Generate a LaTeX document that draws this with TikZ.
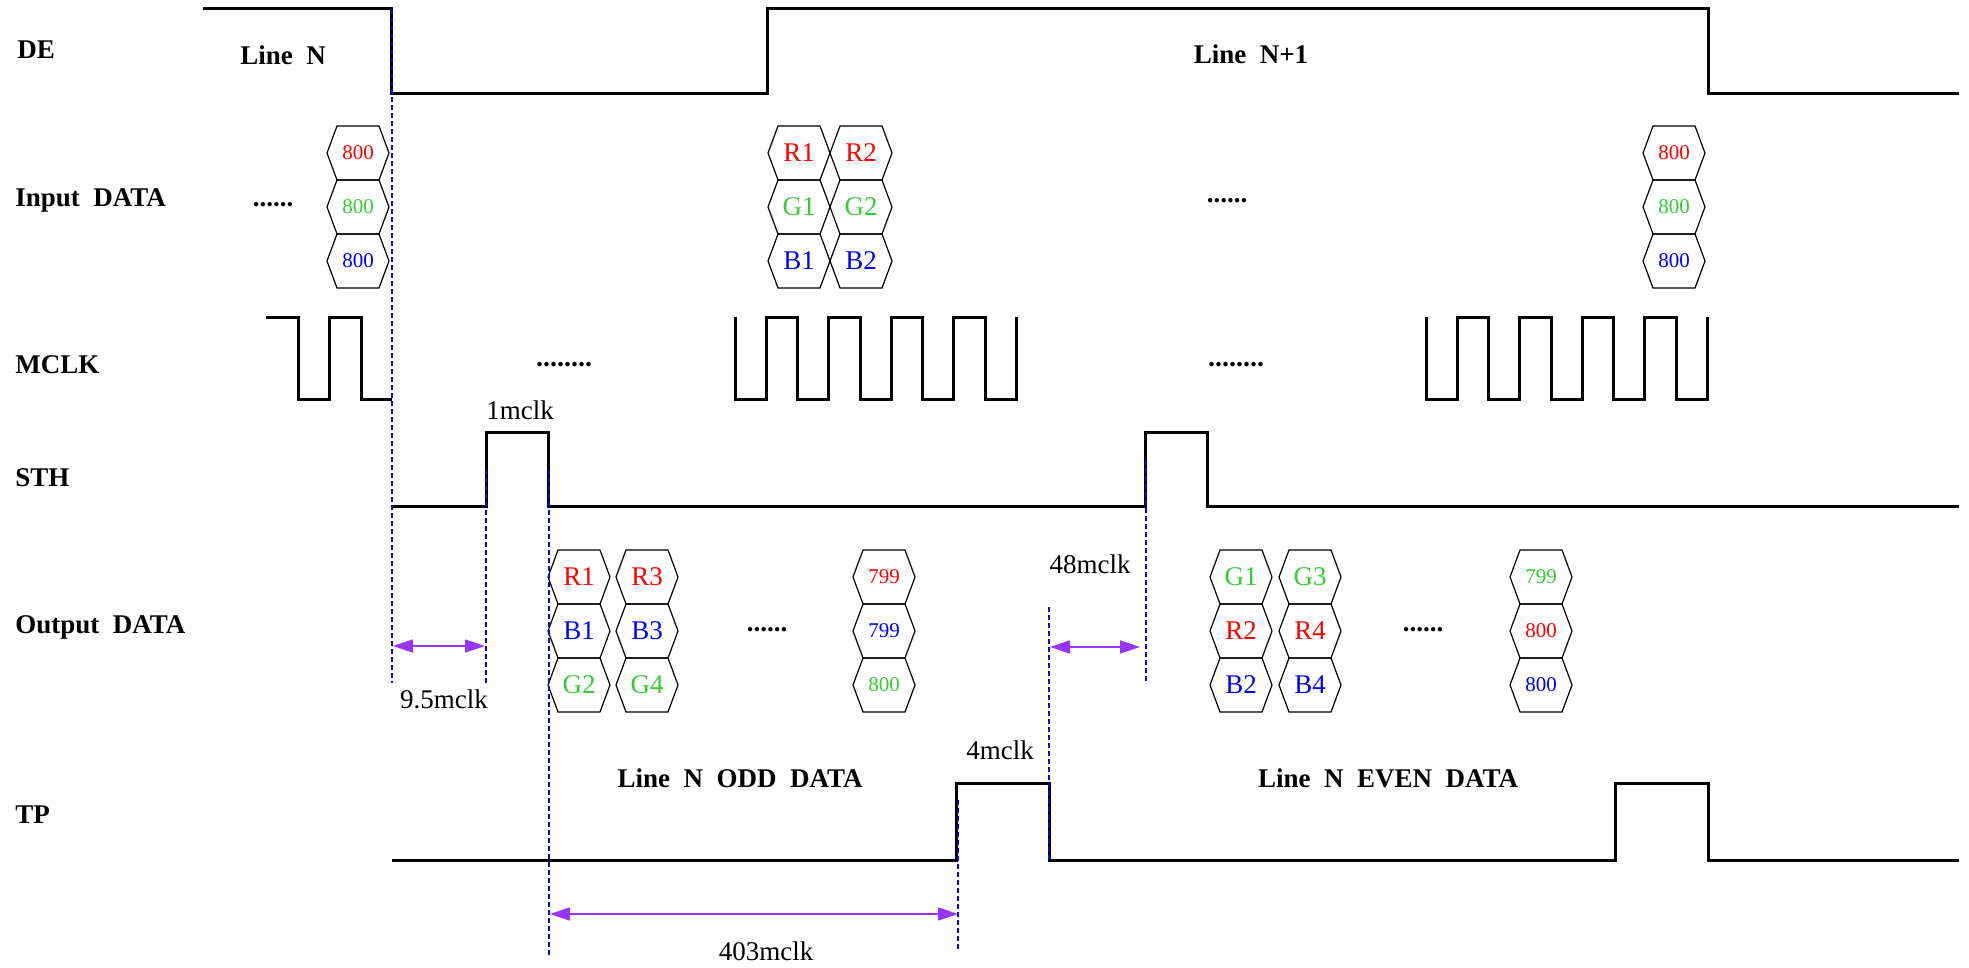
\documentclass[tikz,border=0pt]{standalone}
\usepackage{fontspec}
\setmainfont{Liberation Serif}
\usetikzlibrary{arrows.meta}
\definecolor{sigred}{RGB}{255,0,0}
\definecolor{siggreen}{RGB}{51,204,51}
\definecolor{sigblue}{RGB}{0,0,255}
\definecolor{dimpurple}{RGB}{153,51,255}
\tikzset{
  wave/.style={line width=1.5pt, line join=miter},
  guide/.style={sigblue, line width=0.6pt, dash pattern=on 2.5pt off 1.5pt},
  dimline/.style={dimpurple, line width=0.8pt, {Triangle[length=10pt,width=6.5pt]}-{Triangle[length=10pt,width=6.5pt]}},
  siglabel/.style={font=\fontsize{13.5}{15}\selectfont\bfseries, anchor=base west, inner sep=0pt},
  boldtext/.style={font=\fontsize{13.5}{15}\selectfont\bfseries, anchor=base, inner sep=0pt},
  dimtext/.style={font=\fontsize{13.5}{15}\selectfont, anchor=base, inner sep=0pt},
  dots/.style={font=\fontsize{13.5}{15}\selectfont\bfseries, anchor=base, inner sep=0pt},
  thindots/.style={font=\fontsize{14}{15}\selectfont\bfseries, anchor=base, inner sep=0pt},
  hexline/.style={line width=0.6pt},
  hexletter/.style={font=\fontsize{13.5}{15}\selectfont, inner sep=0pt},
  hexdigit/.style={font=\fontsize{10.5}{12}\selectfont, inner sep=0pt},
}
% name, x, y, colour, text, text style
\newcommand{\hexcell}[6]{%
  \draw[hexline] (#2-31,#3) -- (#2-21,#3-27) -- (#2+21,#3-27) -- (#2+31,#3)
    -- (#2+21,#3+27) -- (#2-21,#3+27) -- cycle;
  \node[#6, text=#4] (#1) at (#2,#3) {#5};}
\begin{document}
\begin{tikzpicture}[x=0.5pt, y=-0.5pt]
\useasboundingbox (0,0) rectangle (1969,968);

% signal labels
\node[siglabel] (lDE) at (17,59) {DE};
\node[siglabel] (lIN) at (15,207) {Input\ \ DATA};
\node[siglabel] (lMC) at (15,373) {MCLK};
\node[siglabel] (lST) at (15,486) {STH};
\node[siglabel] (lOUT) at (15,633) {Output\ \ DATA};
\node[siglabel] (lTP) at (15,823) {TP};

% DE
\draw[wave] (203,9) -- (391,9) -- (391,94) -- (767,94) -- (767,9) -- (1708,9) -- (1708,94) -- (1959,94);
\node[siglabel] (lineN) at (240,65) {Line\ \ N};
\node[boldtext] (lineN1) at (1251,64) {Line\ \ N+1};

% MCLK
\draw[wave] (266,317) -- (298,317) -- (298,399) -- (329,399) -- (329,317) -- (361,317) -- (361,399) -- (392,399);
\foreach \o in {0,691}{
\draw[wave] (735+\o,317) -- (735+\o,399) -- (766+\o,399) -- (766+\o,317) -- (797+\o,317) -- (797+\o,399)
  -- (828+\o,399) -- (828+\o,317) -- (860+\o,317) -- (860+\o,399) -- (891+\o,399) -- (891+\o,317)
  -- (922+\o,317) -- (922+\o,399) -- (953+\o,399) -- (953+\o,317) -- (985+\o,317) -- (985+\o,399)
  -- (1016+\o,399) -- (1016+\o,317);
}
\node[thindots] (mdots1) at (564,366) {........};
\node[thindots] (mdots2) at (1236,366) {........};

% STH
\draw[wave] (392,506) -- (486,506) -- (486,432) -- (548,432) -- (548,506) -- (1145,506) -- (1145,432) -- (1207,432) -- (1207,506) -- (1959,506);
\node[dimtext] (t1mclk) at (520,419) {1mclk};

% TP
\draw[wave] (392,860) -- (956,860) -- (956,783) -- (1049,783) -- (1049,860) -- (1615,860) -- (1615,783) -- (1708,783) -- (1708,860) -- (1959,860);
\node[dimtext] (t4mclk) at (1000,759) {4mclk};
\node[boldtext] (odd) at (740,787) {Line\ \ N\ \ ODD\ \ DATA};
\node[boldtext] (even) at (1388,787) {Line\ \ N\ \ EVEN\ \ DATA};

% input data
\node[dots] (idots1) at (273,206) {......};
\node[dots] (idots2) at (1227,203) {......};
\hexcell{iLr}{358}{153}{sigred}{800}{hexdigit}
\hexcell{iLg}{358}{207}{siggreen}{800}{hexdigit}
\hexcell{iLb}{358}{261}{sigblue}{800}{hexdigit}
\hexcell{iR1}{799}{153}{sigred}{R1}{hexletter}
\hexcell{iG1}{799}{207}{siggreen}{G1}{hexletter}
\hexcell{iB1}{799}{261}{sigblue}{B1}{hexletter}
\hexcell{iR2}{861}{153}{sigred}{R2}{hexletter}
\hexcell{iG2}{861}{207}{siggreen}{G2}{hexletter}
\hexcell{iB2}{861}{261}{sigblue}{B2}{hexletter}
\hexcell{iRr}{1674}{153}{sigred}{800}{hexdigit}
\hexcell{iRg}{1674}{207}{siggreen}{800}{hexdigit}
\hexcell{iRb}{1674}{261}{sigblue}{800}{hexdigit}

% output data
\node[dots] (odots1) at (767,631) {......};
\node[dots] (odots2) at (1423,631) {......};
\hexcell{oR1}{579}{577}{sigred}{R1}{hexletter}
\hexcell{oB1}{579}{631}{sigblue}{B1}{hexletter}
\hexcell{oG2}{579}{685}{siggreen}{G2}{hexletter}
\hexcell{oR3}{647}{577}{sigred}{R3}{hexletter}
\hexcell{oB3}{647}{631}{sigblue}{B3}{hexletter}
\hexcell{oG4}{647}{685}{siggreen}{G4}{hexletter}
\hexcell{o799r}{884}{577}{sigred}{799}{hexdigit}
\hexcell{o799b}{884}{631}{sigblue}{799}{hexdigit}
\hexcell{o800g}{884}{685}{siggreen}{800}{hexdigit}
\hexcell{oG1}{1241}{577}{siggreen}{G1}{hexletter}
\hexcell{oR2}{1241}{631}{sigred}{R2}{hexletter}
\hexcell{oB2}{1241}{685}{sigblue}{B2}{hexletter}
\hexcell{oG3}{1310}{577}{siggreen}{G3}{hexletter}
\hexcell{oR4}{1310}{631}{sigred}{R4}{hexletter}
\hexcell{oB4}{1310}{685}{sigblue}{B4}{hexletter}
\hexcell{o799g}{1541}{577}{siggreen}{799}{hexdigit}
\hexcell{o800r}{1541}{631}{sigred}{800}{hexdigit}
\hexcell{o800b}{1541}{685}{sigblue}{800}{hexdigit}

% guide lines
\draw[guide] (392,9) -- (392,683);
\draw[guide] (486,470) -- (486,683);
\draw[guide] (549,470) -- (549,955);
\draw[guide] (958,800) -- (958,950);
\draw[guide] (1049,607) -- (1049,860);
\draw[guide] (1146,460) -- (1146,683);

% dimensions
\coordinate (a95l) at (393,646);
\coordinate (a95r) at (485,646);
\draw[dimline] (a95l) -- (a95r);
\node[dimtext] (t95) at (444,708) {9.5mclk};
\coordinate (a48l) at (1050,647);
\coordinate (a48r) at (1140,647);
\draw[dimline] (a48l) -- (a48r);
\node[dimtext] (t48) at (1090,573) {48mclk};
\coordinate (a403l) at (550,914);
\coordinate (a403r) at (958,914);
\draw[dimline] (a403l) -- (a403r);
\node[dimtext] (t403) at (766,960) {403mclk};
\end{tikzpicture}
\end{document}
